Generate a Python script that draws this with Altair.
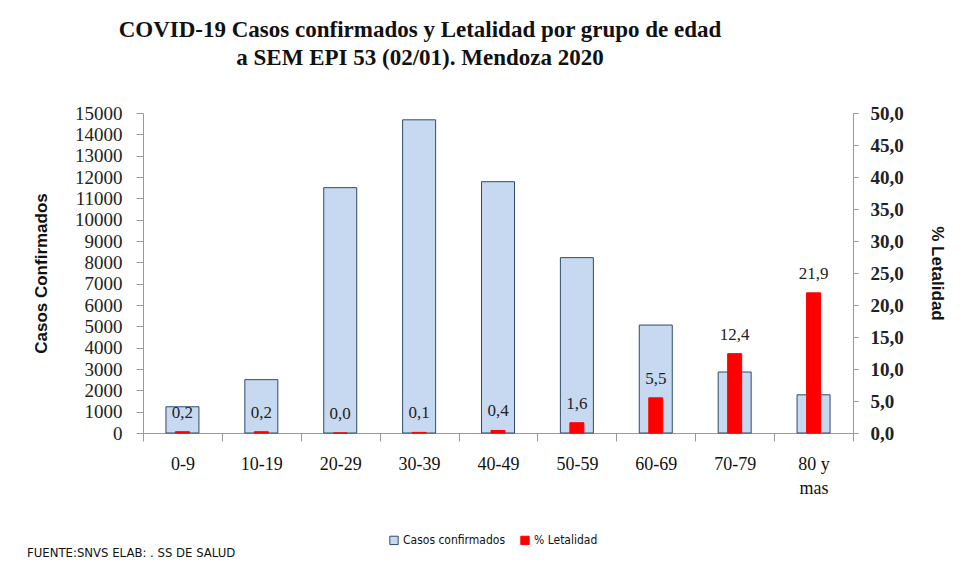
import altair as alt
import pandas as pd

grupos = ["0-9", "10-19", "20-29", "30-39", "40-49", "50-59", "60-69", "70-79", "80 y mas"]
casos = [1230, 2500, 11500, 14680, 11780, 8220, 5060, 2860, 1790]
letalidad = [0.2, 0.2, 0.0, 0.1, 0.4, 1.6, 5.5, 12.4, 21.9]
series = ["Casos confirmados", "% Letalidad"]
fuente = "FUENTE:SNVS ELAB: . SS DE SALUD"

df = pd.DataFrame({"grupo": grupos, "casos": casos, "letalidad": letalidad})

serif = "Liberation Serif"
sans = "Liberation Sans"
narrow = "DejaVu Sans Condensed"

color_scale = alt.Scale(domain=series, range=["#c6d9f1", "#ff0000"])
stroke_scale = alt.Scale(domain=series, range=["#2f4a6d", "#ff0000"])
let_scale = alt.Scale(domain=[0, 50])
let_axis = alt.Axis(
    title="% Letalidad", values=[0, 5, 10, 15, 20, 25, 30, 35, 40, 45, 50],
    tickCount=11, format=".1f",
    grid=False, labelFont=serif, labelFontSize=19, labelFontWeight="bold",
    labelColor="#222", labelOverlap=False, labelPadding=12,
    titleFont=sans, titleFontSize=17, titleFontWeight="bold",
    titleColor="#111", titlePadding=24, tickSize=5, tickColor="#999",
    domainColor="#999", orient="right",
)

x_enc = alt.X(
    "grupo:N", sort=grupos,
    scale=alt.Scale(paddingInner=0.0, paddingOuter=0.0),
    axis=alt.Axis(
        title=None, labelAngle=0, labelFont=serif, labelFontSize=18, labelColor="#111",
        labelBaseline="top", labelPadding=14, tickBand="extent", tickSize=8,
        tickColor="#999", domainColor="#999",
        labelExpr="datum.label == '80 y mas' ? ['80 y', 'mas'] : datum.label",
        labelLineHeight=24,
    ),
)

base = alt.Chart(df)

blue = base.mark_bar(size=33, strokeWidth=1).transform_calculate(
    serie="'Casos confirmados'"
).encode(
    x=x_enc,
    y=alt.Y(
        "casos:Q",
        scale=alt.Scale(domain=[0, 15000]),
        axis=alt.Axis(
            title="Casos Confirmados", values=list(range(0, 15001, 1000)), format="d",
            grid=False, labelFont=serif, labelFontSize=19, labelColor="#222",
            labelOverlap=False, labelPadding=14,
            titleFont=sans, titleFontSize=17, titleFontWeight="bold", titleColor="#111",
            titlePadding=24, tickSize=7, tickColor="#999", domainColor="#999",
            orient="left",
        ),
    ),
    color=alt.Color("serie:N", scale=color_scale, title=None),
    stroke=alt.Stroke("serie:N", scale=stroke_scale, title=None),
)

red = base.mark_bar(size=14).transform_calculate(
    serie="'% Letalidad'"
).encode(
    x=x_enc,
    y=alt.Y("letalidad:Q", scale=let_scale, axis=let_axis),
    color=alt.Color("serie:N", scale=color_scale, title=None),
    stroke=alt.Stroke("serie:N", scale=stroke_scale, title=None),
)

labels = base.mark_text(
    font=serif, fontSize=17, color="#222", baseline="bottom", dy=-10
).encode(
    x=x_enc,
    y=alt.Y("letalidad:Q", scale=let_scale, axis=let_axis),
    text=alt.Text("letalidad:Q", format=".1f"),
)

src = alt.Chart(pd.DataFrame({"t": [fuente]})).mark_text(
    font=narrow, fontSize=13, color="#111", align="left", baseline="middle"
).encode(x=alt.value(-116), y=alt.value(440), text="t:N")

chart = alt.layer(
    blue, alt.layer(red, labels), src
).resolve_scale(y="independent").properties(
    width=710, height=320,
    autosize=alt.AutoSizeParams(type="none"),
    padding={"left": 135, "top": 105, "right": 110, "bottom": 125},
    title=alt.TitleParams(
        ["COVID-19 Casos confirmados y Letalidad por grupo de edad",
         "a SEM EPI 53 (02/01). Mendoza 2020"],
        font=serif, fontSize=23, fontWeight="bold", color="#111",
        anchor="middle", dx=-78, offset=34, lineHeight=28,
    ),
).configure_view(stroke=None).configure_legend(
    orient="none", legendX=245, legendY=421, direction="horizontal",
    labelFont=narrow, labelFontSize=12, labelColor="#111",
    symbolType="square", symbolSize=70, symbolStrokeWidth=1, columnPadding=12,
    labelOffset=3,
)

chart.save(
    "out.html",
    embed_options={
        "renderer": "svg", "actions": False,
        "formatLocale": {"decimal": ",", "thousands": ".", "grouping": [3], "currency": ["$", ""]},
    },
)
